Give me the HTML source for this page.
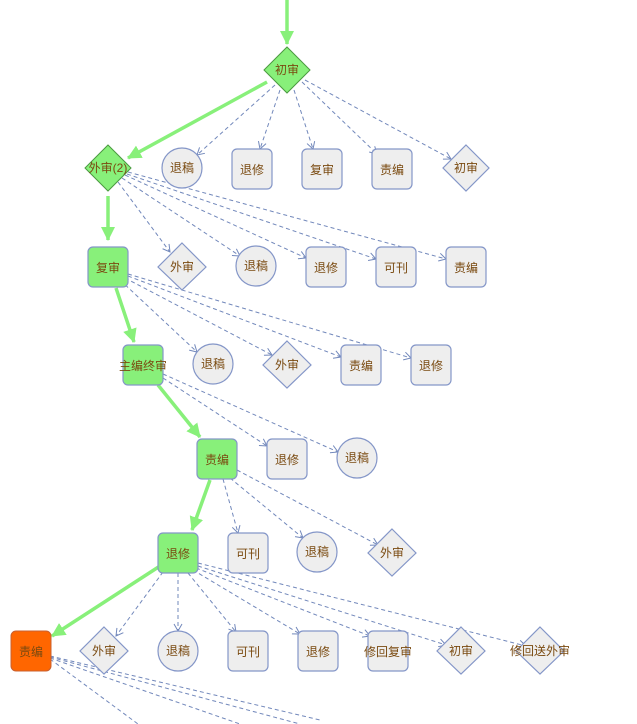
<!DOCTYPE html>
<html><head><meta charset="utf-8"><style>
html,body{margin:0;padding:0;background:#fff;width:637px;height:724px;overflow:hidden}
svg text{font-family:"Liberation Sans","Noto Sans CJK SC",sans-serif;font-size:12px;fill:#7a4a10;text-anchor:middle;dominant-baseline:central}
.n{fill:#eeeeee;stroke:#8496c8;stroke-width:1.2}
.g{fill:#88f07a;stroke:#8496c8;stroke-width:1.2}
.gd{fill:#88f07a;stroke:#4a9a40;stroke-width:1}
.d{stroke:#7288bb;stroke-width:1;stroke-dasharray:4,3;fill:none;marker-end:url(#oa)}
.s{stroke:#88f07a;stroke-width:3.5;fill:none;marker-end:url(#ga)}
</style></head><body>
<svg width="637" height="724" viewBox="0 0 637 724" xmlns="http://www.w3.org/2000/svg">
<defs>
<marker id="oa" markerWidth="10" markerHeight="10" refX="8" refY="5" orient="auto" markerUnits="userSpaceOnUse"><path d="M1,1 L8,5 L1,9" fill="none" stroke="#7288bb" stroke-width="1"/></marker>
<marker id="ga" markerWidth="16" markerHeight="16" refX="13" refY="7" orient="auto" markerUnits="userSpaceOnUse"><path d="M0,0 L14,7 L0,14 Z" fill="#88f07a"/></marker>
</defs>
<!-- dashed edges -->
<line class="d" x1="275" y1="85" x2="197" y2="155"/>
<line class="d" x1="280" y1="90" x2="260" y2="149"/>
<line class="d" x1="294" y1="90" x2="313" y2="149"/>
<line class="d" x1="302" y1="82" x2="377" y2="154"/>
<line class="d" x1="305" y1="80" x2="451" y2="159"/>
<line class="d" x1="118" y1="182" x2="170" y2="252"/>
<line class="d" x1="122" y1="178" x2="240" y2="256"/>
<line class="d" x1="125" y1="175" x2="306" y2="258"/>
<line class="d" x1="127" y1="174" x2="376" y2="259"/>
<line class="d" x1="128" y1="172" x2="446" y2="259"/>
<line class="d" x1="120" y1="280" x2="197" y2="352"/>
<line class="d" x1="125" y1="278" x2="272" y2="355"/>
<line class="d" x1="128" y1="276" x2="341" y2="357"/>
<line class="d" x1="128" y1="274" x2="411" y2="358"/>
<line class="d" x1="163" y1="378" x2="267" y2="446"/>
<line class="d" x1="163" y1="374" x2="338" y2="452"/>
<line class="d" x1="223" y1="479" x2="238" y2="533"/>
<line class="d" x1="230" y1="478" x2="303" y2="538"/>
<line class="d" x1="237" y1="470" x2="378" y2="545"/>
<line class="d" x1="163" y1="572" x2="116" y2="636"/>
<line class="d" x1="178" y1="573" x2="178" y2="631"/>
<line class="d" x1="188" y1="573" x2="236" y2="632"/>
<line class="d" x1="193" y1="570" x2="300" y2="634"/>
<line class="d" x1="196" y1="568" x2="370" y2="636"/>
<line class="d" x1="198" y1="566" x2="446" y2="645"/>
<line class="d" x1="198" y1="563" x2="526" y2="646"/>
<line class="d" x1="50" y1="659" x2="138" y2="724" style="marker-end:none"/>
<line class="d" x1="50" y1="658" x2="240" y2="724" style="marker-end:none"/>
<line class="d" x1="50" y1="657" x2="300" y2="724" style="marker-end:none"/>
<line class="d" x1="50" y1="656" x2="320" y2="720" style="marker-end:none"/>
<!-- green edges -->
<line class="s" x1="287" y1="0" x2="287" y2="44"/>
<line class="s" x1="267" y1="82" x2="128" y2="158"/>
<line class="s" x1="108" y1="196" x2="108" y2="240"/>
<line class="s" x1="116" y1="288" x2="134" y2="342"/>
<line class="s" x1="158" y1="385" x2="200" y2="437"/>
<line class="s" x1="210" y1="480" x2="192" y2="530"/>
<line class="s" x1="160" y1="566" x2="52" y2="636"/>
<!-- row1 -->
<polygon class="gd" points="287,47 310,70 287,93 264,70"/><text x="287" y="70">初审</text>
<!-- row2 -->
<polygon class="gd" points="108,145 131,168 108,191 85,168"/><text x="108" y="168">外审(2)</text>
<circle class="n" cx="182" cy="168" r="20"/><text x="182" y="168">退稿</text>
<rect class="n" x="232" y="149" width="40" height="40" rx="5"/><text x="252" y="170">退修</text>
<rect class="n" x="302" y="149" width="40" height="40" rx="5"/><text x="322" y="170">复审</text>
<rect class="n" x="372" y="149" width="40" height="40" rx="5"/><text x="392" y="170">责编</text>
<polygon class="n" points="466,145 489,168 466,191 443,168"/><text x="466" y="168">初审</text>
<!-- row3 -->
<rect class="g" x="88" y="247" width="40" height="40" rx="5"/><text x="108" y="268">复审</text>
<polygon class="n" points="182,243 206,267 182,290 158,267"/><text x="182" y="267">外审</text>
<circle class="n" cx="256" cy="266" r="20"/><text x="256" y="266">退稿</text>
<rect class="n" x="306" y="247" width="40" height="40" rx="5"/><text x="326" y="268">退修</text>
<rect class="n" x="376" y="247" width="40" height="40" rx="5"/><text x="396" y="268">可刊</text>
<rect class="n" x="446" y="247" width="40" height="40" rx="5"/><text x="466" y="268">责编</text>
<!-- row4 -->
<rect class="g" x="123" y="345" width="40" height="40" rx="5"/><text x="143" y="366">主编终审</text>
<circle class="n" cx="213" cy="364" r="20"/><text x="213" y="364">退稿</text>
<polygon class="n" points="287,341 311,365 287,388 263,365"/><text x="287" y="365">外审</text>
<rect class="n" x="341" y="345" width="40" height="40" rx="5"/><text x="361" y="366">责编</text>
<rect class="n" x="411" y="345" width="40" height="40" rx="5"/><text x="431" y="366">退修</text>
<!-- row5 -->
<rect class="g" x="197" y="439" width="40" height="40" rx="5"/><text x="217" y="460">责编</text>
<rect class="n" x="267" y="439" width="40" height="40" rx="5"/><text x="287" y="460">退修</text>
<circle class="n" cx="357" cy="458" r="20"/><text x="357" y="458">退稿</text>
<!-- row6 -->
<rect class="g" x="158" y="533" width="40" height="40" rx="5"/><text x="178" y="554">退修</text>
<rect class="n" x="228" y="533" width="40" height="40" rx="5"/><text x="248" y="554">可刊</text>
<circle class="n" cx="317" cy="552" r="20"/><text x="317" y="552">退稿</text>
<polygon class="n" points="392,529 416,553 392,576 368,553"/><text x="392" y="553">外审</text>
<!-- row7 -->
<rect x="11" y="631" width="40" height="40" rx="5" fill="#ff6600" stroke="#c86030" stroke-width="1"/><text x="31" y="652">责编</text>
<polygon class="n" points="104,627 128,651 104,674 80,651"/><text x="104" y="651">外审</text>
<circle class="n" cx="178" cy="651" r="20"/><text x="178" y="651">退稿</text>
<rect class="n" x="228" y="631" width="40" height="40" rx="5"/><text x="248" y="652">可刊</text>
<rect class="n" x="298" y="631" width="40" height="40" rx="5"/><text x="318" y="652">退修</text>
<rect class="n" x="368" y="631" width="40" height="40" rx="5"/><text x="388" y="652">修回复审</text>
<polygon class="n" points="461,627 485,651 461,674 437,651"/><text x="461" y="651">初审</text>
<polygon class="n" points="540,627 564,651 540,674 516,651"/><text x="540" y="651">修回送外审</text>
</svg>
</body></html>
